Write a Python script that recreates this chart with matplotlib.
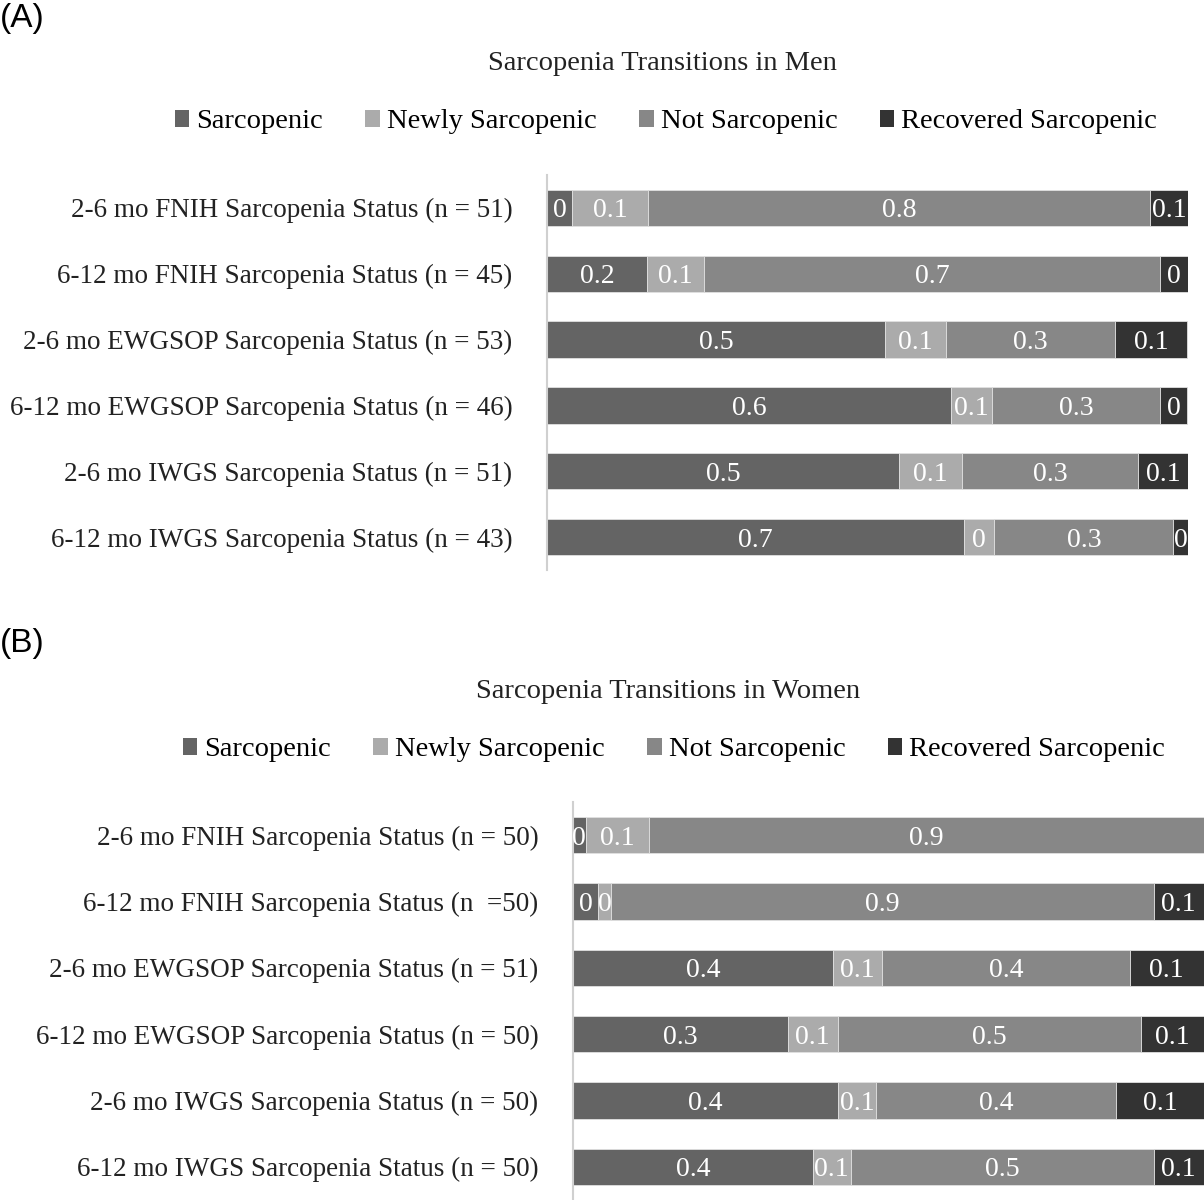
import matplotlib
matplotlib.use("Agg")
import matplotlib.pyplot as plt
from matplotlib.patches import Patch

plt.rcParams['font.family'] = ['Liberation Serif', 'DejaVu Serif']

series = ["Sarcopenic", "Newly Sarcopenic", "Not Sarcopenic", "Recovered Sarcopenic"]
colors = ["#646464", "#ababab", "#878787", "#333333"]

# men, top to bottom
labels_men = ["2-6 mo FNIH Sarcopenia Status (n = 51)",
              "6-12 mo FNIH Sarcopenia Status (n = 45)",
              "2-6 mo EWGSOP Sarcopenia Status (n = 53)",
              "6-12 mo EWGSOP Sarcopenia Status (n = 46)",
              "2-6 mo IWGS Sarcopenia Status (n = 51)",
              "6-12 mo IWGS Sarcopenia Status (n = 43)"]
sarc_men = [0.039, 0.156, 0.528, 0.630, 0.549, 0.651]
newly_men = [0.118, 0.089, 0.094, 0.065, 0.098, 0.047]
not_men = [0.784, 0.711, 0.264, 0.261, 0.275, 0.279]
rec_men = [0.059, 0.044, 0.113, 0.043, 0.078, 0.023]

# women, top to bottom
labels_women = ["2-6 mo FNIH Sarcopenia Status (n = 50)",
                "6-12 mo FNIH Sarcopenia Status (n  =50)",
                "2-6 mo EWGSOP Sarcopenia Status (n = 51)",
                "6-12 mo EWGSOP Sarcopenia Status (n = 50)",
                "2-6 mo IWGS Sarcopenia Status (n = 50)",
                "6-12 mo IWGS Sarcopenia Status (n = 50)"]
sarc_women = [0.02, 0.04, 0.412, 0.34, 0.42, 0.38]
newly_women = [0.10, 0.02, 0.078, 0.08, 0.06, 0.06]
not_women = [0.88, 0.86, 0.392, 0.48, 0.38, 0.48]
rec_women = [0.0, 0.08, 0.118, 0.10, 0.14, 0.08]

W, H = 1204, 1200
fig = plt.figure(figsize=(W / 100, H / 100), dpi=100)


def px(l, t, r, b):
    return [l / W, 1 - b / H, (r - l) / W, (b - t) / H]


def draw(ax, labels, data):
    y = list(range(len(labels)))
    left = [0] * len(labels)
    for vals, c in zip(data, colors):
        bars = ax.barh(y, vals, left=left, height=0.55, color=c,
                       edgecolor="#e0e0e0", linewidth=0.6)
        for b, v in zip(bars, vals):
            if v == 0:
                continue
            ax.text(b.get_x() + b.get_width() / 2, b.get_y() + b.get_height() / 2,
                    f"{round(v, 1):g}", ha="center", va="center_baseline",
                    color="white", fontsize=20)
        left = [a + v for a, v in zip(left, vals)]
    ax.set_xlim(0, 1)
    ax.set_ylim(len(labels) - 0.5, -0.5)
    ax.set_yticks(y)
    ax.set_yticklabels(labels, fontsize=19.5)
    ax.tick_params(axis="y", length=0, pad=25, colors="#222222")
    ax.set_xticks([])
    for s in ["top", "right", "bottom"]:
        ax.spines[s].set_visible(False)
    ax.spines["left"].set_color("#d0d0d0")
    ax.spines["left"].set_linewidth(1.5)


handles = [Patch(facecolor=c, edgecolor="none") for c in colors]
leg_kw = dict(loc="center", ncol=4, frameon=False, fontsize=20.5, handlelength=0.5,
              handleheight=0.5, handletextpad=0.25, columnspacing=1.5)

ax1 = fig.add_axes(px(547, 175, 1188, 570))
draw(ax1, labels_men, [sarc_men, newly_men, not_men, rec_men])
fig.text(662 / W, 1 - 64 / H, "Sarcopenia Transitions in Men", ha="center", va="center",
         fontsize=20.5, color="#222222")
fig.legend(handles, series, bbox_to_anchor=(666 / W, 1 - 122 / H), **leg_kw)
fig.text(0, 1 - 18 / H, "(A)", ha="left", va="center", fontsize=24,
         family="Liberation Sans")

ax2 = fig.add_axes(px(573, 802, 1204, 1200))
draw(ax2, labels_women, [sarc_women, newly_women, not_women, rec_women])
fig.text(668 / W, 1 - 692 / H, "Sarcopenia Transitions in Women", ha="center", va="center",
         fontsize=20.5, color="#222222")
fig.legend(handles, series, bbox_to_anchor=(674 / W, 1 - 750 / H), **leg_kw)
fig.text(0, 1 - 643 / H, "(B)", ha="left", va="center", fontsize=24,
         family="Liberation Sans")

fig.savefig("out.png", dpi=100)
